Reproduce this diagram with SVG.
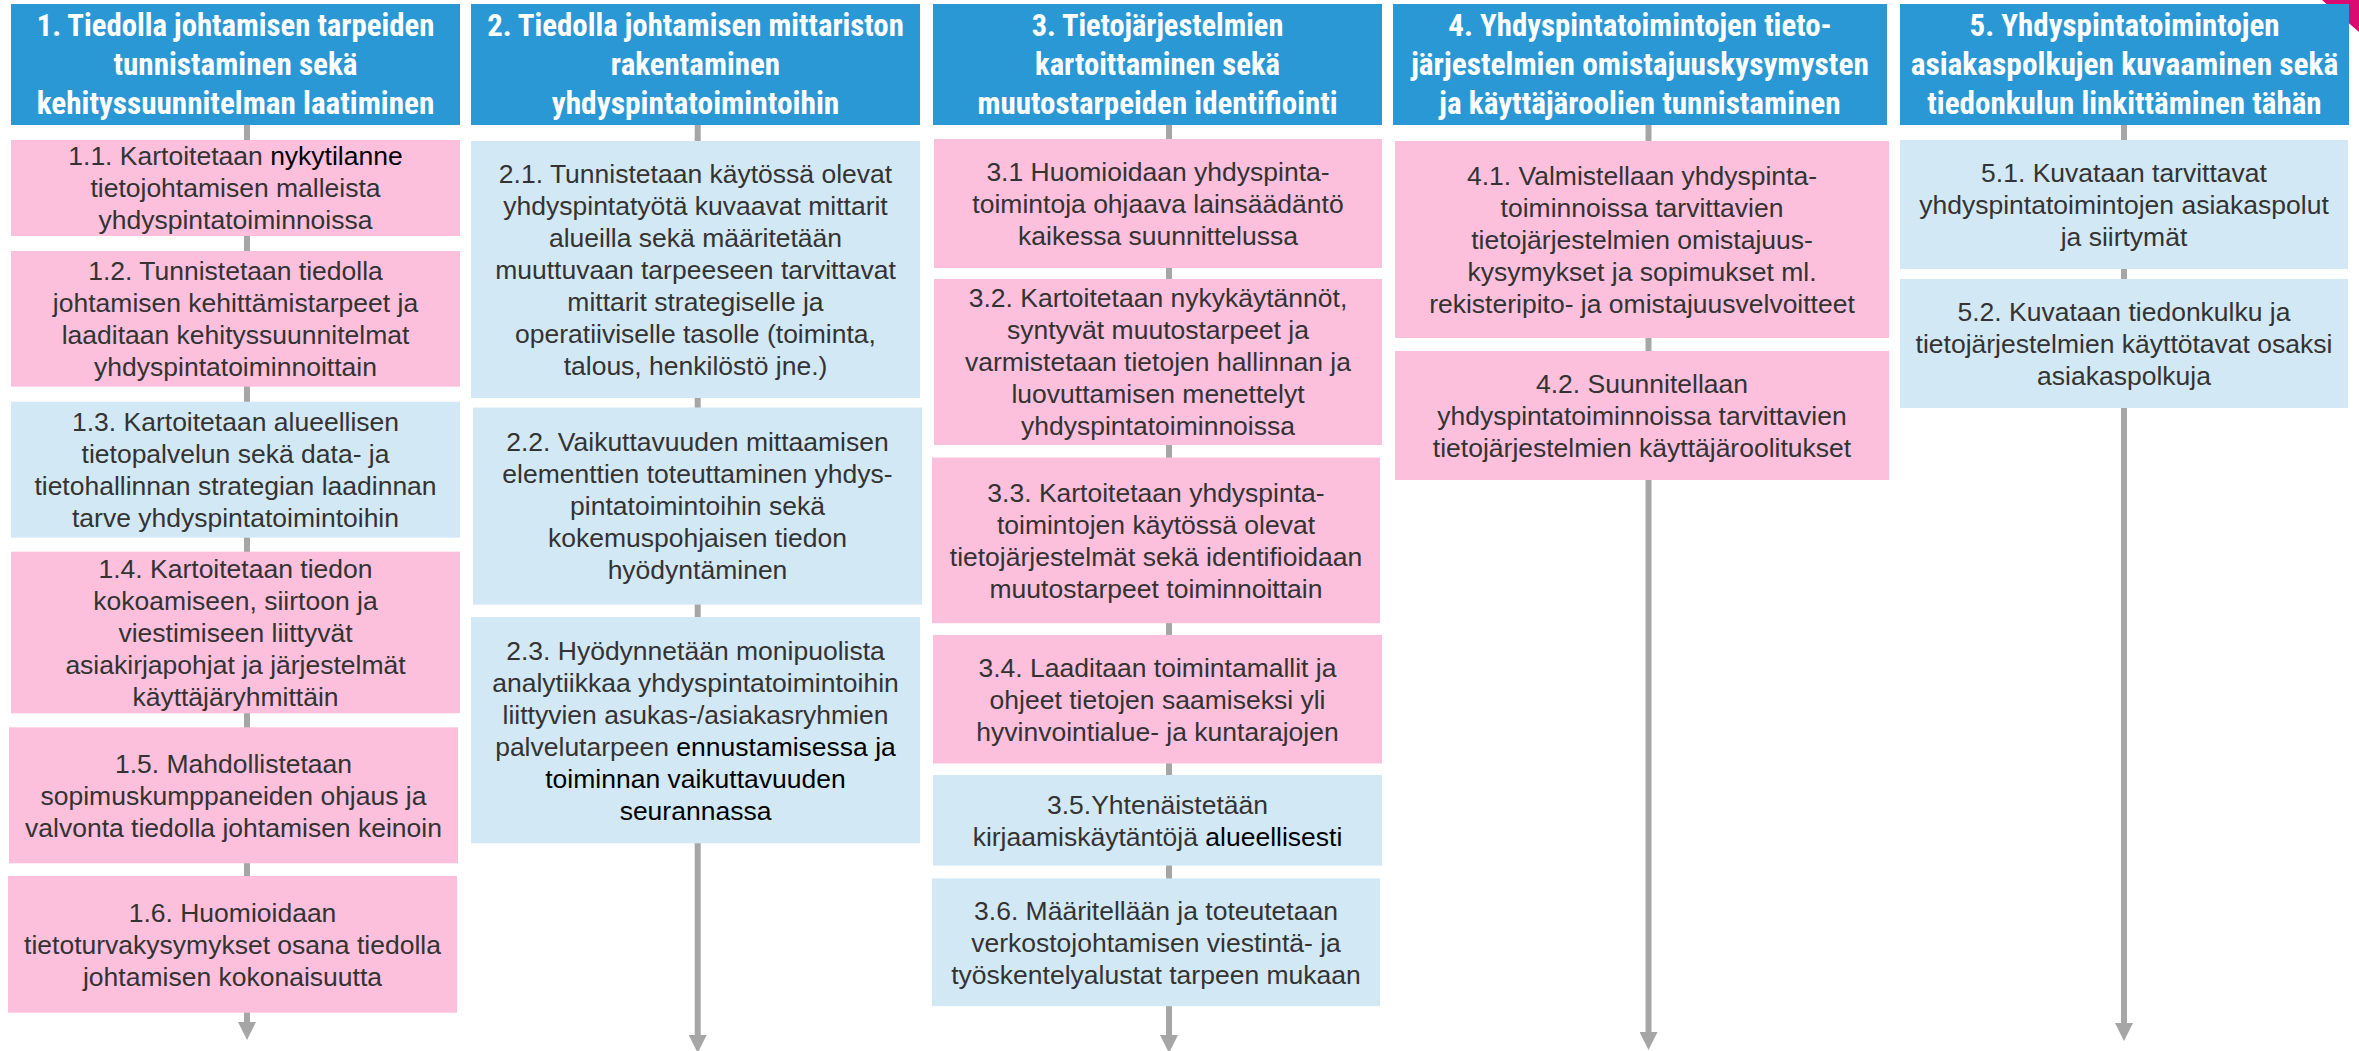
<svg xmlns="http://www.w3.org/2000/svg" width="2359" height="1051" viewBox="0 0 2359 1051">
<defs>
<style>
.hd{fill:#2A98D5}
.pk{fill:#FCC0DC}
.lb{fill:#D3E8F5}
.ht{font-family:"Liberation Sans Narrow","Arial Narrow","Roboto Condensed","Liberation Sans",Arial,sans-serif;font-weight:bold;font-size:31px;fill:#FFFFFF;text-anchor:middle}
.bt{font-family:"Liberation Sans",Arial,sans-serif;font-size:26.5px;fill:#333333;text-anchor:middle}
.k{fill:#000000}
.cn{stroke:#A6A6A6;stroke-width:6;fill:none}
</style>
<marker id="ah" viewBox="0 0 18 18" refX="0" refY="9" markerWidth="18" markerHeight="18" markerUnits="userSpaceOnUse" orient="auto">
<path d="M0,0 L18,9 L0,18 z" fill="#A6A6A6"/>
</marker>
</defs>
<rect width="2359" height="1051" fill="#FFFFFF"/>
<polygon points="2322,0 2359,0 2359,32" fill="#DA0A72"/>

<g id="connectors">
<line class="cn" x1="247" y1="125" x2="247" y2="1022" marker-end="url(#ah)"/>
<line class="cn" x1="697.7" y1="125" x2="697.7" y2="1035" marker-end="url(#ah)"/>
<line class="cn" x1="1169" y1="125" x2="1169" y2="1035" marker-end="url(#ah)"/>
<line class="cn" x1="1648.5" y1="125" x2="1648.5" y2="1032" marker-end="url(#ah)"/>
<line class="cn" x1="2124" y1="125" x2="2124" y2="1023" marker-end="url(#ah)"/>
</g>

<g id="h1">
<rect class="hd" x="11" y="4" width="449" height="121"/>
<text class="ht" x="235.5" y="36" textLength="397.6" lengthAdjust="spacingAndGlyphs">1. Tiedolla johtamisen tarpeiden</text>
<text class="ht" x="235.5" y="75" textLength="244" lengthAdjust="spacingAndGlyphs">tunnistaminen sekä</text>
<text class="ht" x="235.5" y="114" textLength="397.6" lengthAdjust="spacingAndGlyphs">kehityssuunnitelman laatiminen</text>
</g>
<g id="n1_1">
<rect class="pk" x="11" y="140" width="449" height="96"/>
<text class="bt"><tspan x="235.5" y="165.3">1.1. Kartoitetaan <tspan class="k">nykytilanne</tspan></tspan><tspan x="235.5" y="197.3">tietojohtamisen malleista</tspan><tspan x="235.5" y="229.3">yhdyspintatoiminnoissa</tspan></text>
</g>
<g id="n1_2">
<rect class="pk" x="11" y="251" width="449" height="135.7"/>
<text class="bt"><tspan x="235.5" y="280.1">1.2. Tunnistetaan tiedolla</tspan><tspan x="235.5" y="312.1">johtamisen kehittämistarpeet ja</tspan><tspan x="235.5" y="344.1">laaditaan kehityssuunnitelmat</tspan><tspan x="235.5" y="376.1">yhdyspintatoiminnoittain</tspan></text>
</g>
<g id="n1_3">
<rect class="lb" x="11" y="401.7" width="449" height="136"/>
<text class="bt"><tspan x="235.5" y="431">1.3. Kartoitetaan alueellisen</tspan><tspan x="235.5" y="463">tietopalvelun sekä data- ja</tspan><tspan x="235.5" y="495">tietohallinnan strategian laadinnan</tspan><tspan x="235.5" y="527">tarve yhdyspintatoimintoihin</tspan></text>
</g>
<g id="n1_4">
<rect class="pk" x="11" y="551.7" width="449" height="161.6"/>
<text class="bt"><tspan x="235.5" y="577.8">1.4. Kartoitetaan tiedon</tspan><tspan x="235.5" y="609.8">kokoamiseen, siirtoon ja</tspan><tspan x="235.5" y="641.8">viestimiseen liittyvät</tspan><tspan x="235.5" y="673.8">asiakirjapohjat ja järjestelmät</tspan><tspan x="235.5" y="705.8">käyttäjäryhmittäin</tspan></text>
</g>
<g id="n1_5">
<rect class="pk" x="9" y="727.3" width="449" height="136"/>
<text class="bt"><tspan x="233.5" y="772.6">1.5. Mahdollistetaan</tspan><tspan x="233.5" y="804.6">sopimuskumppaneiden ohjaus ja</tspan><tspan x="233.5" y="836.6">valvonta tiedolla johtamisen keinoin</tspan></text>
</g>
<g id="n1_6">
<rect class="pk" x="8" y="876" width="449" height="136.7"/>
<text class="bt"><tspan x="232.5" y="921.6">1.6. Huomioidaan</tspan><tspan x="232.5" y="953.6">tietoturvakysymykset osana tiedolla</tspan><tspan x="232.5" y="985.6">johtamisen kokonaisuutta</tspan></text>
</g>

<g id="h2">
<rect class="hd" x="471" y="4" width="449" height="121"/>
<text class="ht" x="695.5" y="36" textLength="416.7" lengthAdjust="spacingAndGlyphs">2. Tiedolla johtamisen mittariston</text>
<text class="ht" x="695.5" y="75" textLength="169.3" lengthAdjust="spacingAndGlyphs">rakentaminen</text>
<text class="ht" x="695.5" y="114" textLength="287.7" lengthAdjust="spacingAndGlyphs">yhdyspintatoimintoihin</text>
</g>
<g id="n2_1">
<rect class="lb" x="471" y="141" width="449" height="257"/>
<text class="bt"><tspan x="695.5" y="182.8">2.1. Tunnistetaan käytössä olevat</tspan><tspan x="695.5" y="214.8">yhdyspintatyötä kuvaavat mittarit</tspan><tspan x="695.5" y="246.8">alueilla sekä määritetään</tspan><tspan x="695.5" y="278.8">muuttuvaan tarpeeseen tarvittavat</tspan><tspan x="695.5" y="310.8">mittarit strategiselle ja</tspan><tspan x="695.5" y="342.8">operatiiviselle tasolle (toiminta,</tspan><tspan x="695.5" y="374.8">talous, henkilöstö jne.)</tspan></text>
</g>
<g id="n2_2">
<rect class="lb" x="473" y="407.5" width="449" height="197.1"/>
<text class="bt"><tspan x="697.5" y="451.3">2.2. Vaikuttavuuden mittaamisen</tspan><tspan x="697.5" y="483.3">elementtien toteuttaminen yhdys-</tspan><tspan x="697.5" y="515.3">pintatoimintoihin sekä</tspan><tspan x="697.5" y="547.3">kokemuspohjaisen tiedon</tspan><tspan x="697.5" y="579.3">hyödyntäminen</tspan></text>
</g>
<g id="n2_3">
<rect class="lb" x="471" y="617" width="449" height="226.3"/>
<text class="bt"><tspan x="695.5" y="659.5">2.3. Hyödynnetään monipuolista</tspan><tspan x="695.5" y="691.5">analytiikkaa yhdyspintatoimintoihin</tspan><tspan x="695.5" y="723.5">liittyvien asukas-/asiakasryhmien</tspan><tspan x="695.5" y="755.5">palvelutarpeen <tspan class="k">ennustamisessa ja</tspan></tspan><tspan class="k" x="695.5" y="787.5">toiminnan vaikuttavuuden</tspan><tspan class="k" x="695.5" y="819.5">seurannassa</tspan></text>
</g>

<g id="h3">
<rect class="hd" x="933" y="4" width="449" height="121"/>
<text class="ht" x="1157.5" y="36" textLength="251.7" lengthAdjust="spacingAndGlyphs">3. Tietojärjestelmien</text>
<text class="ht" x="1157.5" y="75" textLength="245" lengthAdjust="spacingAndGlyphs">kartoittaminen sekä</text>
<text class="ht" x="1157.5" y="114" textLength="360" lengthAdjust="spacingAndGlyphs">muutostarpeiden identifiointi</text>
</g>
<g id="n3_1">
<rect class="pk" x="934" y="139" width="448" height="129"/>
<text class="bt"><tspan x="1158" y="180.8">3.1 Huomioidaan yhdyspinta-</tspan><tspan x="1158" y="212.8">toimintoja ohjaava lainsäädäntö</tspan><tspan x="1158" y="244.8">kaikessa suunnittelussa</tspan></text>
</g>
<g id="n3_2">
<rect class="pk" x="934" y="279" width="448" height="166"/>
<text class="bt"><tspan x="1158" y="307.3">3.2. Kartoitetaan nykykäytännöt,</tspan><tspan x="1158" y="339.3">syntyvät muutostarpeet ja</tspan><tspan x="1158" y="371.3">varmistetaan tietojen hallinnan ja</tspan><tspan x="1158" y="403.3">luovuttamisen menettelyt</tspan><tspan x="1158" y="435.3">yhdyspintatoiminnoissa</tspan></text>
</g>
<g id="n3_3">
<rect class="pk" x="932" y="457.5" width="448" height="165.7"/>
<text class="bt"><tspan x="1156" y="501.6">3.3. Kartoitetaan yhdyspinta-</tspan><tspan x="1156" y="533.6">toimintojen käytössä olevat</tspan><tspan x="1156" y="565.6">tietojärjestelmät sekä identifioidaan</tspan><tspan x="1156" y="597.6">muutostarpeet toiminnoittain</tspan></text>
</g>
<g id="n3_4">
<rect class="pk" x="933" y="634.9" width="449" height="128.6"/>
<text class="bt"><tspan x="1157.5" y="676.5">3.4. Laaditaan toimintamallit ja</tspan><tspan x="1157.5" y="708.5">ohjeet tietojen saamiseksi yli</tspan><tspan x="1157.5" y="740.5">hyvinvointialue- ja kuntarajojen</tspan></text>
</g>
<g id="n3_5">
<rect class="lb" x="933" y="775" width="449" height="90.6"/>
<text class="bt"><tspan x="1157.5" y="813.6">3.5.Yhtenäistetään</tspan><tspan x="1157.5" y="845.6">kirjaamiskäytäntöjä <tspan class="k">alueellisesti</tspan></tspan></text>
</g>
<g id="n3_6">
<rect class="lb" x="932" y="878.4" width="448" height="127.8"/>
<text class="bt"><tspan x="1156" y="919.6">3.6. Määritellään ja toteutetaan</tspan><tspan x="1156" y="951.6">verkostojohtamisen viestintä- ja</tspan><tspan x="1156" y="983.6">työskentelyalustat tarpeen mukaan</tspan></text>
</g>

<g id="h4">
<rect class="hd" x="1393" y="4" width="494" height="121"/>
<text class="ht" x="1640" y="36" textLength="383.3" lengthAdjust="spacingAndGlyphs">4. Yhdyspintatoimintojen tieto-</text>
<text class="ht" x="1640" y="75" textLength="457.7" lengthAdjust="spacingAndGlyphs">järjestelmien omistajuuskysymysten</text>
<text class="ht" x="1640" y="114" textLength="401.3" lengthAdjust="spacingAndGlyphs">ja käyttäjäroolien tunnistaminen</text>
</g>
<g id="n4_1">
<rect class="pk" x="1395" y="141" width="494" height="197"/>
<text class="bt"><tspan x="1642" y="184.8">4.1. Valmistellaan yhdyspinta-</tspan><tspan x="1642" y="216.8">toiminnoissa tarvittavien</tspan><tspan x="1642" y="248.8">tietojärjestelmien omistajuus-</tspan><tspan x="1642" y="280.8">kysymykset ja sopimukset ml.</tspan><tspan x="1642" y="312.8">rekisteripito- ja omistajuusvelvoitteet</tspan></text>
</g>
<g id="n4_2">
<rect class="pk" x="1395" y="351" width="494" height="129"/>
<text class="bt"><tspan x="1642" y="392.8">4.2. Suunnitellaan</tspan><tspan x="1642" y="424.8">yhdyspintatoiminnoissa tarvittavien</tspan><tspan x="1642" y="456.8">tietojärjestelmien käyttäjäroolitukset</tspan></text>
</g>

<g id="h5">
<rect class="hd" x="1900" y="4" width="449" height="121"/>
<text class="ht" x="2124.5" y="36" textLength="310" lengthAdjust="spacingAndGlyphs">5. Yhdyspintatoimintojen</text>
<text class="ht" x="2124.5" y="75" textLength="427.7" lengthAdjust="spacingAndGlyphs">asiakaspolkujen kuvaaminen sekä</text>
<text class="ht" x="2124.5" y="114" textLength="394.3" lengthAdjust="spacingAndGlyphs">tiedonkulun linkittäminen tähän</text>
</g>
<g id="n5_1">
<rect class="lb" x="1900" y="140" width="448" height="129"/>
<text class="bt"><tspan x="2124" y="181.8">5.1. Kuvataan tarvittavat</tspan><tspan x="2124" y="213.8">yhdyspintatoimintojen asiakaspolut</tspan><tspan x="2124" y="245.8">ja siirtymät</tspan></text>
</g>
<g id="n5_2">
<rect class="lb" x="1900" y="279" width="448" height="129"/>
<text class="bt"><tspan x="2124" y="320.8">5.2. Kuvataan tiedonkulku ja</tspan><tspan x="2124" y="352.8">tietojärjestelmien käyttötavat osaksi</tspan><tspan x="2124" y="384.8">asiakaspolkuja</tspan></text>
</g>
</svg>
